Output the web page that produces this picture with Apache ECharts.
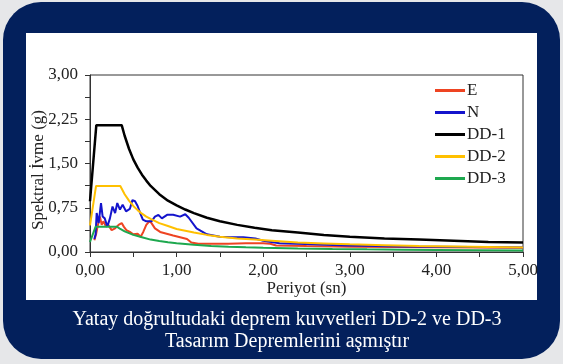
<!DOCTYPE html>
<html>
<head>
<meta charset="utf-8">
<script src="https://cdn.jsdelivr.net/npm/echarts@6/dist/echarts.min.js"></script>
<style>
html,body{margin:0;padding:0;background:#e6e7e9;}
#c{width:563px;height:364px;}
</style>
</head>
<body>
<div id="c"></div>
<script>
// ---- data (period T in s, spectral acceleration A in g) ----
var seriesNames = ['E', 'N', 'DD-1', 'DD-2', 'DD-3'];
var xTicks = [0, 1, 2, 3, 4, 5];
var yTicks = [0, 0.75, 1.5, 2.25, 3];

var eT = [0.05, 0.07, 0.096, 0.115, 0.135, 0.154, 0.185, 0.21, 0.25, 0.29, 0.33, 0.366, 0.39, 0.42, 0.46, 0.50, 0.55, 0.585, 0.615, 0.65, 0.685, 0.71, 0.75, 0.81, 0.885, 0.96, 1.04, 1.12, 1.17, 1.25, 1.4, 1.6, 1.8, 2.0, 2.08, 2.15, 2.5, 3.0, 3.5, 4.0, 4.5, 5.0];
var eA = [0.20, 0.30, 0.49, 0.60, 0.46, 0.52, 0.43, 0.46, 0.37, 0.40, 0.46, 0.49, 0.43, 0.37, 0.34, 0.30, 0.31, 0.26, 0.34, 0.46, 0.52, 0.49, 0.40, 0.34, 0.31, 0.28, 0.25, 0.22, 0.16, 0.14, 0.14, 0.14, 0.15, 0.15, 0.14, 0.11, 0.10, 0.09, 0.085, 0.08, 0.075, 0.07];

var nT = [0.05, 0.065, 0.077, 0.10, 0.127, 0.146, 0.17, 0.20, 0.23, 0.26, 0.29, 0.315, 0.346, 0.377, 0.416, 0.46, 0.49, 0.52, 0.55, 0.58, 0.61, 0.65, 0.71, 0.75, 0.79, 0.83, 0.89, 0.96, 1.04, 1.10, 1.14, 1.23, 1.35, 1.50, 1.62, 1.77, 1.91, 2.00, 2.19, 2.58, 2.96, 3.3, 3.6, 4.0, 4.4, 4.7, 5.0];
var nA = [0.22, 0.30, 0.66, 0.49, 0.83, 0.60, 0.57, 0.43, 0.57, 0.77, 0.66, 0.83, 0.72, 0.80, 0.69, 0.73, 0.88, 0.86, 0.78, 0.66, 0.55, 0.52, 0.52, 0.60, 0.63, 0.57, 0.63, 0.63, 0.60, 0.64, 0.58, 0.40, 0.30, 0.26, 0.25, 0.25, 0.23, 0.19, 0.15, 0.13, 0.11, 0.10, 0.095, 0.09, 0.085, 0.08, 0.075];

var dd1T = [0, 0.073, 0.366, 0.40, 0.45, 0.50, 0.55, 0.60, 0.65, 0.70, 0.80, 0.90, 1.00, 1.10, 1.20, 1.35, 1.50, 1.70, 1.90, 2.10, 2.40, 2.70, 3.00, 3.40, 3.80, 4.20, 4.60, 5.00];
var dd1A = [0.86, 2.15, 2.15, 1.97, 1.75, 1.57, 1.43, 1.31, 1.21, 1.12, 0.98, 0.87, 0.79, 0.72, 0.66, 0.58, 0.52, 0.46, 0.41, 0.37, 0.33, 0.29, 0.26, 0.23, 0.21, 0.19, 0.17, 0.16];

var dd2T = [0, 0.07, 0.35, 0.40, 0.45, 0.50, 0.55, 0.60, 0.65, 0.70, 0.80, 0.90, 1.00, 1.10, 1.20, 1.35, 1.50, 1.70, 1.90, 2.10, 2.40, 2.70, 3.00, 3.40, 3.80, 4.20, 4.60, 5.00];
var dd2A = [0.45, 1.12, 1.12, 0.98, 0.87, 0.78, 0.71, 0.65, 0.60, 0.56, 0.49, 0.44, 0.39, 0.36, 0.33, 0.29, 0.26, 0.23, 0.21, 0.19, 0.16, 0.145, 0.13, 0.115, 0.10, 0.093, 0.085, 0.078];

var dd3T = [0, 0.065, 0.31, 0.35, 0.40, 0.45, 0.50, 0.60, 0.70, 0.80, 0.90, 1.00, 1.20, 1.40, 1.60, 1.80, 2.00, 2.40, 2.80, 3.20, 3.60, 4.00, 4.50, 5.00];
var dd3A = [0.17, 0.43, 0.43, 0.39, 0.35, 0.32, 0.29, 0.25, 0.21, 0.185, 0.165, 0.148, 0.122, 0.103, 0.09, 0.08, 0.072, 0.06, 0.051, 0.045, 0.04, 0.036, 0.031, 0.027];

var yAxisTitle = 'Spektral İvme (g)';
var xAxisTitle = 'Periyot (sn)';
var captionLines = ['Yatay doğrultudaki deprem kuvvetleri DD-2 ve DD-3', 'Tasarım Depremlerini aşmıştır'];

// ---- build ----
function pairs(t, a) { return t.map(function (v, i) { return [v, a[i]]; }); }
var colors = ['#ee4422', '#1414cc', '#000000', '#ffc000', '#1ea84f'];
var widths = [2, 2, 2.5, 2, 2];
var dataSets = [pairs(eT, eA), pairs(nT, nA), pairs(dd1T, dd1A), pairs(dd2T, dd2A), pairs(dd3T, dd3A)];
var FONT = '"Liberation Serif", "Times New Roman", "DejaVu Serif", serif';
function fmt(v) { return v.toFixed(2).replace('.', ','); }
function isIn(list, v) { return list.some(function (t) { return Math.abs(t - v) < 1e-6; }); }

var chart = echarts.init(document.getElementById('c'), null, { renderer: 'canvas' });
chart.setOption({
  backgroundColor: '#e6e7e9',
  animation: false,
  graphic: [
    { type: 'rect', z: -10, shape: { x: 3, y: 2, width: 557, height: 357, r: 38 }, style: { fill: '#03205c' } },
    { type: 'rect', z: -9, shape: { x: 26, y: 33, width: 511, height: 267 }, style: { fill: '#ffffff' } },
    { type: 'text', z: 5, x: 39, y: 170, rotation: Math.PI / 2, style: { text: yAxisTitle, fill: '#222', fontFamily: FONT, fontSize: 17, textAlign: 'center', textVerticalAlign: 'middle' } },
    { type: 'text', z: -8, x: 287, y: 320, style: { text: captionLines[0], fill: '#ffffff', fontFamily: FONT, fontSize: 20, textAlign: 'center', textVerticalAlign: 'middle' } },
    { type: 'text', z: -8, x: 287, y: 342, style: { text: captionLines[1], fill: '#ffffff', fontFamily: FONT, fontSize: 20, textAlign: 'center', textVerticalAlign: 'middle' } }
  ],
  grid: { left: 90, right: 40, top: 75, bottom: 112, show: true, borderColor: '#333', borderWidth: 1, backgroundColor: 'transparent' },
  legend: {
    orient: 'vertical', left: 435, top: 82, padding: 0, itemGap: 5, itemWidth: 30, itemHeight: 3, icon: 'rect',
    data: seriesNames,
    textStyle: { fontFamily: FONT, fontSize: 17, color: '#222', padding: [0, 0, 0, -3] }
  },
  xAxis: {
    type: 'value', min: 0, max: 5, interval: 0.5,
    name: xAxisTitle, nameLocation: 'middle', nameGap: 28,
    nameTextStyle: { fontFamily: FONT, fontSize: 17, color: '#222' },
    axisLine: { lineStyle: { color: '#333', width: 1 } },
    axisTick: { show: true, length: 5, lineStyle: { color: '#333' } },
    axisLabel: { margin: 10, fontFamily: FONT, fontSize: 17, color: '#222', showMinLabel: true, showMaxLabel: true,
      formatter: function (v) { return isIn(xTicks, v) ? fmt(v) : ''; } },
    splitLine: { show: false }
  },
  yAxis: {
    type: 'value', min: 0, max: 3, interval: 0.375,
    axisLine: { show: true, lineStyle: { color: '#333', width: 1 } },
    axisTick: { show: true, length: 5, lineStyle: { color: '#333' } },
    axisLabel: { margin: 12, fontFamily: FONT, fontSize: 17, color: '#222',
      formatter: function (v) { return isIn(yTicks, v) ? fmt(v) : ''; } },
    splitLine: { show: false }
  },
  series: seriesNames.map(function (n, i) {
    return {
      name: n, type: 'line', data: dataSets[i], symbol: 'none', showSymbol: false,
      lineStyle: { color: colors[i], width: widths[i] }, itemStyle: { color: colors[i] },
      clip: true
    };
  })
});
</script>
</body>
</html>
